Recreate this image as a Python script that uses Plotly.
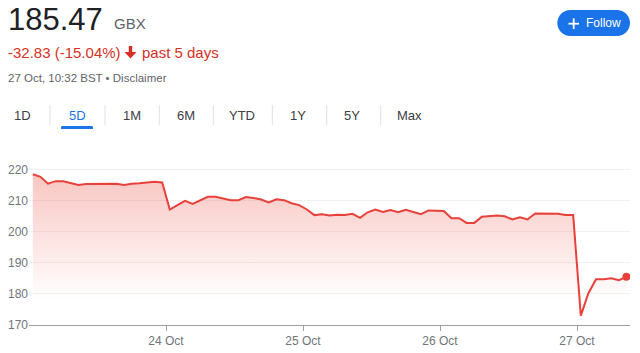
import plotly.graph_objects as go

# ---------------- data ----------------
day_labels = ["23 Oct", "24 Oct", "25 Oct", "26 Oct", "27 Oct"]
slot_times = ["08:00", "08:30", "09:00", "09:30", "10:00", "10:30", "11:00", "11:30", "12:00",
              "12:30", "13:00", "13:30", "14:00", "14:30", "15:00", "15:30", "16:00", "16:30"]
prices_23 = [218.4, 217.6, 215.4, 216.2, 216.2, 215.6, 215.0, 215.3, 215.3,
             215.3, 215.3, 215.4, 215.0, 215.4, 215.5, 215.7, 216.0, 215.8]
prices_24 = [207.1, 208.5, 209.9, 208.9, 210.1, 211.2, 211.2, 210.6, 210.1,
             210.1, 211.1, 210.8, 210.3, 209.4, 210.4, 210.1, 209.1, 208.5]
prices_25 = [207.1, 205.3, 205.6, 205.2, 205.4, 205.3, 205.7, 204.4, 206.2,
             207.1, 206.3, 206.9, 206.2, 207.0, 206.3, 205.6, 206.8, 206.8]
prices_26 = [206.6, 204.3, 204.3, 202.8, 202.8, 204.8, 205.0, 205.2, 204.9,
             203.9, 204.6, 203.9, 205.8, 205.8, 205.8, 205.7, 205.3, 205.3]
prices_27 = [173.0, 180.2, 184.7, 184.7, 185.0, 184.4, 185.47]
y_ticks = [170, 180, 190, 200, 210, 220]
tabs = ["1D", "5D", "1M", "6M", "YTD", "1Y", "5Y", "Max"]

# build series: x = day index + fractional slot position within the day
all_days = [prices_23, prices_24, prices_25, prices_26, prices_27]
xs, ys = [], []
n_slots = len(slot_times)
for d, vals in enumerate(all_days):
    for i, v in enumerate(vals):
        xs.append(d + (i + 0.5) / n_slots)
        ys.append(v)

# ---------------- layout helpers ----------------
W, H = 640, 353
L, R, T, B = 29, 10, 160, 28
PW, PH = W - L - R, H - T - B


def px(x):
    return (x - L) / PW


def py(y):
    return (H - B - y) / PH


FONT = "Liberation Sans, Arial, sans-serif"
RED = "#e8403a"
TXT_RED = "#d93025"
BLUE = "#1a73e8"
GRAY = "#70757a"

fig = go.Figure()
# baseline for fill
fig.add_trace(go.Scatter(x=xs, y=[y_ticks[0]] * len(xs), mode="lines",
                         line=dict(width=0), hoverinfo="skip", showlegend=False))
fig.add_trace(go.Scatter(
    x=xs, y=ys, mode="lines", line=dict(color=RED, width=2),
    fill="tonexty",
    fillgradient=dict(type="vertical", start=178, stop=218,
                      colorscale=[[0, "rgba(234,67,53,0)"], [1, "rgba(234,67,53,0.30)"]]),
    showlegend=False))
fig.add_trace(go.Scatter(x=[xs[-1]], y=[ys[-1]], mode="markers",
                         marker=dict(color=RED, size=8), showlegend=False))

fig.update_layout(
    width=W, height=H,
    margin=dict(l=L, r=R, t=T, b=B, autoexpand=False),
    paper_bgcolor="white", plot_bgcolor="white",
    font=dict(family=FONT, color=GRAY, size=12),
    xaxis=dict(range=[0, (630 - L) / 137.0], tickmode="array",
               tickvals=[1, 2, 3, 4], ticktext=day_labels[1:], automargin=False,
               showgrid=False, zeroline=False, showline=True, linecolor="#9aa0a6",
               linewidth=1, ticks="outside", ticklen=5, tickcolor="#9aa0a6",
               tickfont=dict(size=12, color=GRAY)),
    yaxis=dict(range=[170, 223], tickmode="array", tickvals=y_ticks, automargin=False,
               showgrid=True, gridcolor="#f1f1f1", zeroline=False, showline=False,
               ticks="", ticklabelstandoff=0, tickfont=dict(size=12, color=GRAY)),
)

ann = []


def text(x, y, s, size, color, anchor="left", weight="normal"):
    ann.append(dict(x=px(x), y=py(y), xref="paper", yref="paper", text=s, showarrow=False,
                    xanchor=anchor, yanchor="middle",
                    font=dict(family=FONT, size=size, color=color, weight=weight)))


text(6, 19, "185.47", 31, "#202124")
text(112, 23, "GBX", 15, "#5f6368")
text(6, 52, "-32.83 (-15.04%)", 15, TXT_RED)
text(140, 52, "past 5 days", 15, TXT_RED)
text(6, 78, "27 Oct, 10:32 BST • Disclaimer", 11.5, "#5f6368")
text(584, 23.5, "Follow", 12, "white")

tab_centers = [22.7, 77.3, 131.7, 185.7, 242.3, 298.3, 352.3, 409]
for t, cx in zip(tabs, tab_centers):
    text(cx, 115, t, 13, BLUE if t == "5D" else "#3c4043", anchor="center")

shapes = []
for sx in [50, 105, 159.3, 213.3, 272.3, 326.7, 380.7]:
    shapes.append(dict(type="line", xref="paper", yref="paper", x0=px(sx), x1=px(sx),
                       y0=py(105), y1=py(125), line=dict(color="#e0e0e0", width=1)))


def P(x, y):
    return f"{px(x):.5f},{py(y):.5f}"


# tab underline (rounded top)
ul = (f"M {P(61,129)} L {P(61,127.5)} Q {P(61,126)} {P(62.5,126)} L {P(91.5,126)} "
      f"Q {P(93,126)} {P(93,127.5)} L {P(93,129)} Z")
shapes.append(dict(type="path", xref="paper", yref="paper", path=ul,
                   fillcolor=BLUE, line=dict(width=0)))

# follow button pill
k = 0.5523
r = 13
x0, x1, yc = 557.3 + r, 630 - r, 23
pill = (f"M {P(x0, yc-r)} L {P(x1, yc-r)} "
        f"C {P(x1+k*r, yc-r)} {P(x1+r, yc-k*r)} {P(x1+r, yc)} "
        f"C {P(x1+r, yc+k*r)} {P(x1+k*r, yc+r)} {P(x1, yc+r)} "
        f"L {P(x0, yc+r)} "
        f"C {P(x0-k*r, yc+r)} {P(x0-r, yc+k*r)} {P(x0-r, yc)} "
        f"C {P(x0-r, yc-k*r)} {P(x0-k*r, yc-r)} {P(x0, yc-r)} Z")
shapes.append(dict(type="path", xref="paper", yref="paper", path=pill,
                   fillcolor=BLUE, line=dict(width=0), layer="below"))
# plus sign
shapes.append(dict(type="line", xref="paper", yref="paper", x0=px(568.5), x1=px(579),
                   y0=py(23.7), y1=py(23.7), line=dict(color="white", width=1.8)))
shapes.append(dict(type="line", xref="paper", yref="paper", x0=px(573.7), x1=px(573.7),
                   y0=py(18.4), y1=py(29), line=dict(color="white", width=1.8)))
# down arrow
arrow = (f"M {P(128.8,46)} L {P(132.2,46)} L {P(132.2,52)} L {P(136.5,52)} "
         f"L {P(130.5,58.5)} L {P(124.5,52)} L {P(128.8,52)} Z")
shapes.append(dict(type="path", xref="paper", yref="paper", path=arrow,
                   fillcolor=TXT_RED, line=dict(width=0)))

fig.update_layout(annotations=ann, shapes=shapes)
fig.write_html("out.html")
